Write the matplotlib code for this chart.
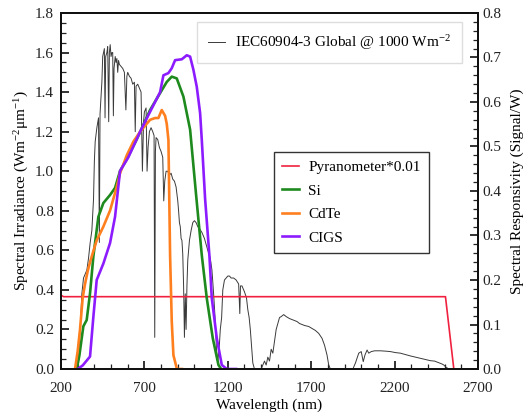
"""Spectral irradiance vs responsivity plot"""

import matplotlib
matplotlib.use('Agg')
import matplotlib.pyplot as plt
from matplotlib.ticker import MultipleLocator, FixedLocator

matplotlib.rc('font', **{"family": "Liberation Serif", "size": 11})
matplotlib.rcParams['mathtext.fontset'] = 'custom'
matplotlib.rcParams['mathtext.rm'] = 'Liberation Serif'
matplotlib.rcParams['mathtext.it'] = 'Liberation Serif:italic'

# IEC60904-3 global spectrum (left axis)
spec_wl = [280, 295, 305, 315, 325, 335, 345, 355, 365, 375, 385, 395, 400, 405, 415, 425,
           430, 434, 440, 445,
           450, 455, 460, 464, 468, 475, 480, 486, 490, 495, 500, 505, 510, 514, 518, 525,
           530, 535, 540, 545, 550, 560, 570, 580, 589, 595, 600, 610, 620, 630, 640, 645,
           650, 660, 670, 680, 688, 695, 700, 710, 716, 722, 730, 740, 750, 758, 762, 766,
           770, 780, 790, 800, 810, 816, 822, 830, 840, 850, 860, 870, 880, 890, 900, 905,
           910, 915, 920, 925, 930, 935, 940, 945, 950, 955, 960, 965, 970, 980, 990, 1000,
           1010, 1020, 1030, 1045, 1060, 1080, 1095, 1105, 1115, 1125, 1132, 1140, 1148, 1155,
           1163, 1170, 1180, 1190, 1200, 1210, 1220, 1235, 1250, 1265, 1272, 1276, 1285, 1300,
           1312, 1320, 1328, 1335, 1342, 1350, 1360, 1400, 1410, 1420, 1430, 1440, 1450, 1460,
           1470, 1480, 1490, 1500, 1510, 1520, 1535, 1550, 1560, 1570, 1585, 1600, 1615, 1630,
           1645, 1660, 1685, 1705, 1725, 1745, 1765, 1780, 1795, 1805, 1815, 1950, 1965, 1985,
           2000, 2012, 2022, 2035, 2045, 2060, 2080, 2115, 2150, 2175, 2205, 2235, 2265, 2295,
           2325, 2355, 2385, 2415, 2440, 2455, 2470, 2485, 2495, 2510, 2525]
spec_val = [0.0, 0.0, 0.03, 0.2, 0.38, 0.46, 0.48, 0.5, 0.56, 0.64, 0.7, 0.86, 1.05, 1.15, 1.22, 1.27,
            0.64, 1.29, 1.38, 1.45,
            1.58, 1.6, 1.62, 1.27, 1.58, 1.6, 1.63, 1.25, 1.6, 1.64, 1.58, 1.6, 1.6, 1.28, 1.52, 1.58,
            1.55, 1.57, 1.5, 1.56, 1.54, 1.53, 1.52, 1.5, 1.31, 1.48, 1.5, 1.48, 1.47, 1.44, 1.45, 1.2,
            1.43, 1.44, 1.42, 1.4, 1.0, 1.25, 1.3, 1.32, 1.0, 1.12, 1.2, 1.22, 1.2, 1.18, 0.16, 1.1,
            1.17, 1.16, 1.12, 1.1, 1.07, 0.85, 0.95, 1.0, 1.0, 0.98, 0.99, 0.96, 0.95, 0.92, 0.85, 0.8,
            0.74, 0.72, 0.66, 0.65, 0.58, 0.42, 0.16, 0.38, 0.2, 0.42, 0.55, 0.6, 0.65, 0.7, 0.74, 0.75,
            0.74, 0.72, 0.71, 0.69, 0.66, 0.6, 0.56, 0.5, 0.38, 0.24, 0.1, 0.04, 0.1, 0.2,
            0.26, 0.4, 0.45, 0.46, 0.47, 0.47, 0.46, 0.46, 0.45, 0.43, 0.28, 0.42, 0.42, 0.39,
            0.36, 0.3, 0.26, 0.2, 0.12, 0.03, 0.0, 0.0, 0.02, 0.04, 0.02, 0.06, 0.04, 0.1,
            0.08, 0.14, 0.2, 0.23, 0.26, 0.265, 0.275, 0.265, 0.26, 0.255, 0.25, 0.245, 0.24, 0.23,
            0.225, 0.22, 0.215, 0.205, 0.195, 0.18, 0.155, 0.12, 0.07, 0.02, 0.0, 0.0, 0.03, 0.08,
            0.088, 0.037, 0.07, 0.096, 0.08, 0.088, 0.092, 0.092, 0.09, 0.088, 0.083, 0.08, 0.073, 0.066,
            0.06, 0.054, 0.048, 0.042, 0.04, 0.035, 0.03, 0.025, 0.02, 0.008, 0.0]

# responsivities (right axis)
pyr_wl = [200, 215, 2505, 2555]
pyr_val = [0.166, 0.1625, 0.1625, 0.0]

si_wl = [294, 310, 334, 344, 354, 374, 394, 424, 454, 494, 524, 554,
         594, 654, 734, 794, 834, 864, 894, 934, 974, 1010, 1044, 1074, 1110, 1144, 1160]
si_val = [0.0, 0.03, 0.096, 0.103, 0.11, 0.17, 0.253, 0.342, 0.373, 0.391, 0.407, 0.445,
          0.471, 0.516, 0.582, 0.62, 0.645, 0.657, 0.653, 0.612, 0.538, 0.391, 0.256, 0.159, 0.069, 0.009, 0.0]

cdte_wl = [284, 300, 314, 330, 344, 360, 374, 394, 414, 454, 494, 534, 554, 594, 634, 674, 734, 764,
           784, 804, 824, 834, 844, 854, 864, 874, 895, 925]
cdte_val = [0.0, 0.04, 0.089, 0.16, 0.191, 0.22, 0.24, 0.265, 0.289, 0.32, 0.356, 0.409, 0.44, 0.48, 0.511, 0.533, 0.56, 0.564,
            0.564, 0.582, 0.569, 0.551, 0.515, 0.256, 0.107, 0.031, 0.0, 0.0]

cigs_wl = [300, 330, 374, 394, 414, 454, 494, 524, 554, 604, 674, 734, 794,
           814, 844, 864, 884, 924, 954, 974, 994, 1014, 1034, 1044, 1064, 1090, 1104, 1134, 1164,
           1194, 1250]
cigs_val = [0.0, 0.008, 0.028, 0.117, 0.2, 0.237, 0.283, 0.342, 0.445, 0.476, 0.533, 0.578, 0.622,
            0.66, 0.665, 0.676, 0.694, 0.696, 0.705, 0.702, 0.672, 0.634, 0.575, 0.515, 0.382, 0.253, 0.159, 0.069, 0.009,
            0.0, 0.0]


def main():
    fig = plt.figure(figsize=(5.23, 4.19), dpi=100)
    ax = fig.add_axes([61 / 523, 1 - 369 / 419, 417 / 523, 356 / 419])
    ax2 = ax.twinx()

    spec_line, = ax.plot(spec_wl, spec_val, color='#3a3a3a', linewidth=0.7,
                         label='IEC60904-3 Global @ 1000 Wm$^{-2}$')

    h_pyr, = ax2.plot(pyr_wl, pyr_val, color='#f0213f', linewidth=1.2, label='Pyranometer*0.01')
    h_si, = ax2.plot(si_wl, si_val, color='#1e8a1e', linewidth=1.9, label='Si')
    h_cdte, = ax2.plot(cdte_wl, cdte_val, color='#ff7f1f', linewidth=1.9, label='CdTe')
    h_cigs, = ax2.plot(cigs_wl, cigs_val, color='#8c1cff', linewidth=1.9, label='CIGS')

    ax.set_xlim(200, 2700)
    ax.set_ylim(0, 1.8)
    ax2.set_ylim(0, 0.8)

    ax.xaxis.set_major_locator(FixedLocator([200, 700, 1200, 1700, 2200, 2700]))
    ax.xaxis.set_minor_locator(MultipleLocator(100))
    ax.yaxis.set_major_locator(MultipleLocator(0.2))
    ax.yaxis.set_minor_locator(MultipleLocator(0.05))
    ax2.yaxis.set_major_locator(MultipleLocator(0.1))
    ax2.yaxis.set_minor_locator(MultipleLocator(0.02))
    ax.yaxis.set_major_formatter(matplotlib.ticker.FormatStrFormatter('%.1f'))
    ax2.yaxis.set_major_formatter(matplotlib.ticker.FormatStrFormatter('%.1f'))

    ax.tick_params(which='both', direction='in', top=False, right=False, colors='#222222', labelsize=11)
    ax.tick_params(which='major', length=6, width=1.3)
    ax.tick_params(which='minor', length=3.5, width=0.9)
    ax.tick_params(axis='x', pad=9)
    ax.tick_params(axis='y', pad=5)
    ax2.tick_params(which='both', direction='in', colors='#222222', labelsize=11)
    ax2.tick_params(which='major', length=6, width=1.3)
    ax2.tick_params(which='minor', length=3.5, width=0.9)
    for a in (ax, ax2):
        for s in a.spines.values():
            s.set_linewidth(1.4)
            s.set_color('#111111')

    ax.set_xlabel('Wavelength (nm)', labelpad=3)
    ax.set_ylabel('Spectral Irradiance (Wm$^{-2}$\u03bcm$^{-1}$)', labelpad=3)
    ax2.set_ylabel('Spectral Responsivity (Signal/W)', labelpad=6)

    # both legends live on the top axes so they sit over every curve
    leg1 = ax2.legend(handles=[spec_line], loc='upper left', bbox_to_anchor=(0.325, 0.976),
                      borderaxespad=0, fancybox=False, framealpha=1, edgecolor='#dddddd',
                      handlelength=1.1, handletextpad=0.65, borderpad=0.75, fontsize=11)
    leg1.get_frame().set_linewidth(1.0)
    ax2.add_artist(leg1)
    leg2 = ax2.legend(handles=[h_pyr, h_si, h_cdte, h_cigs], loc='upper left',
                      bbox_to_anchor=(0.511, 0.61), borderaxespad=0, fancybox=False,
                      framealpha=1, edgecolor='#333333', handlelength=1.1,
                      handletextpad=0.6, borderpad=0.55, labelspacing=0.65, fontsize=11)
    leg2.get_frame().set_linewidth(1.0)

    fig.savefig('out.png', dpi=100)


if __name__ == '__main__':
    main()
